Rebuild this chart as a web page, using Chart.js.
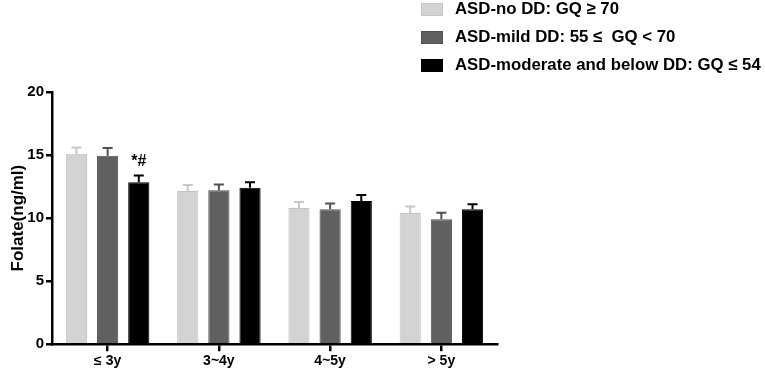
<!DOCTYPE html>
<html>
<head>
<meta charset="utf-8">
<script src="https://cdn.jsdelivr.net/npm/chart.js@4.4.0/dist/chart.umd.min.js"></script>
<style>
  body { margin: 0; background: #fff; }
  #wrap { position: relative; width: 765px; height: 376px; }
  #legend { position: absolute; left: 421px; top: -5px; font: bold 16.8px "Liberation Sans", Arial, sans-serif; color: #000; white-space: pre; }
  .item { display: flex; align-items: center; height: 28px; }
  .box { width: 22px; height: 13px; margin-right: 12px; box-sizing: border-box; }
</style>
</head>
<body>
<div id="wrap">
  <canvas id="chart" width="765" height="376"></canvas>
  <div id="legend"></div>
</div>
<script>
// Age groups
const categories = ['≤ 3y', '3~4y', '4~5y', '> 5y'];

// Group labels
const seriesLabels = ['ASD-no DD: GQ ≥ 70', 'ASD-mild DD: 55 ≤  GQ < 70', 'ASD-moderate and below DD: GQ ≤ 54'];

// Mean folate values
const noDD = [15.1, 12.15, 10.8, 10.4];
const mildDD = [14.95, 12.2, 10.7, 9.9];
const moderateDD = [12.85, 12.4, 11.35, 10.7];

// Upper error (SEM)
const noDDErr = [0.5, 0.48, 0.47, 0.52];
const mildDDErr = [0.6, 0.47, 0.45, 0.52];
const moderateDDErr = [0.52, 0.45, 0.48, 0.4];

// Significance marks: [series index, category index, text]
const marks = [[2, 0, '*#']];

const yTicks = [0, 5, 10, 15, 20];

const colors = ['#d3d3d3', '#606060', '#000000'];
const errColors = ['#c8c8c8', '#505050', '#000000'];

const fontFamily = '"Liberation Sans", Arial, sans-serif';

// Draw upward error bars with caps
const errorBarPlugin = {
    id: 'errorBars',
    afterDatasetsDraw(chart) {
        const ctx = chart.ctx;
        const yScale = chart.scales.y;
        const errs = [noDDErr, mildDDErr, moderateDDErr];
        chart.data.datasets.forEach((ds, i) => {
            const meta = chart.getDatasetMeta(i);
            meta.data.forEach((bar, j) => {
                const top = yScale.getPixelForValue(ds.data[j] + errs[i][j]);
                const base = yScale.getPixelForValue(ds.data[j]);
                ctx.save();
                ctx.strokeStyle = errColors[i];
                ctx.lineWidth = 2;
                ctx.beginPath();
                ctx.moveTo(bar.x, base);
                ctx.lineTo(bar.x, top);
                ctx.moveTo(bar.x - 5, top);
                ctx.lineTo(bar.x + 5, top);
                ctx.stroke();
                ctx.restore();
            });
        });
        // significance text
        marks.forEach(([si, ci, text]) => {
            const bar = chart.getDatasetMeta(si).data[ci];
            const val = chart.data.datasets[si].data[ci] + errs[si][ci];
            const y = yScale.getPixelForValue(val);
            ctx.save();
            ctx.fillStyle = '#000';
            ctx.font = 'bold 16px ' + fontFamily;
            ctx.textAlign = 'center';
            ctx.textBaseline = 'bottom';
            ctx.fillText(text, bar.x, y - 6);
            ctx.restore();
        });
    }
};

const chart = new Chart(document.getElementById('chart'), {
    type: 'bar',
    data: {
        labels: categories,
        datasets: [
            { label: seriesLabels[0], data: noDD, backgroundColor: colors[0], borderColor: '#c4c4c4', borderWidth: 1 },
            { label: seriesLabels[1], data: mildDD, backgroundColor: colors[1], borderColor: '#505050', borderWidth: 1 },
            { label: seriesLabels[2], data: moderateDD, backgroundColor: colors[2], borderColor: '#000', borderWidth: 1 }
        ]
    },
    options: {
        responsive: false,
        animation: false,
        categoryPercentage: 0.84,
        barPercentage: 0.68,
        layout: { padding: { top: 92, right: 268, left: 8, bottom: 4 } },
        plugins: {
            legend: { display: false },
            tooltip: { enabled: false }
        },
        scales: {
            y: {
                min: 0,
                max: 20,
                afterBuildTicks: (axis) => { axis.ticks = yTicks.map(v => ({ value: v })); },
                afterFit: (axis) => { axis.width = 44; },
                border: { color: '#000', width: 2.5 },
                grid: { drawOnChartArea: false, drawTicks: true, tickLength: 6, color: '#000', lineWidth: 2.5 },
                ticks: { color: '#000', font: { family: fontFamily, size: 15, weight: 'bold' }, padding: 2 },
                title: { display: true, text: 'Folate(ng/ml)', color: '#000', font: { family: fontFamily, size: 17, weight: 'bold' }, padding: { top: 0, bottom: 4 } }
            },
            x: {
                border: { color: '#000', width: 2.5 },
                grid: { drawOnChartArea: false, drawTicks: true, tickLength: 7, offset: false, color: '#000', lineWidth: 2.5 },
                ticks: { color: '#000', font: { family: fontFamily, size: 14, weight: 'bold' }, padding: 2 }
            }
        }
    },
    plugins: [errorBarPlugin]
});

// HTML legend built from datasets
const legendEl = document.getElementById('legend');
chart.data.datasets.forEach((ds, i) => {
    const item = document.createElement('div');
    item.className = 'item';
    const box = document.createElement('span');
    box.className = 'box';
    box.style.background = ds.backgroundColor;
    box.style.border = '1px solid ' + ds.borderColor;
    const txt = document.createElement('span');
    txt.textContent = ds.label;
    item.appendChild(box);
    item.appendChild(txt);
    legendEl.appendChild(item);
});
</script>
</body>
</html>
